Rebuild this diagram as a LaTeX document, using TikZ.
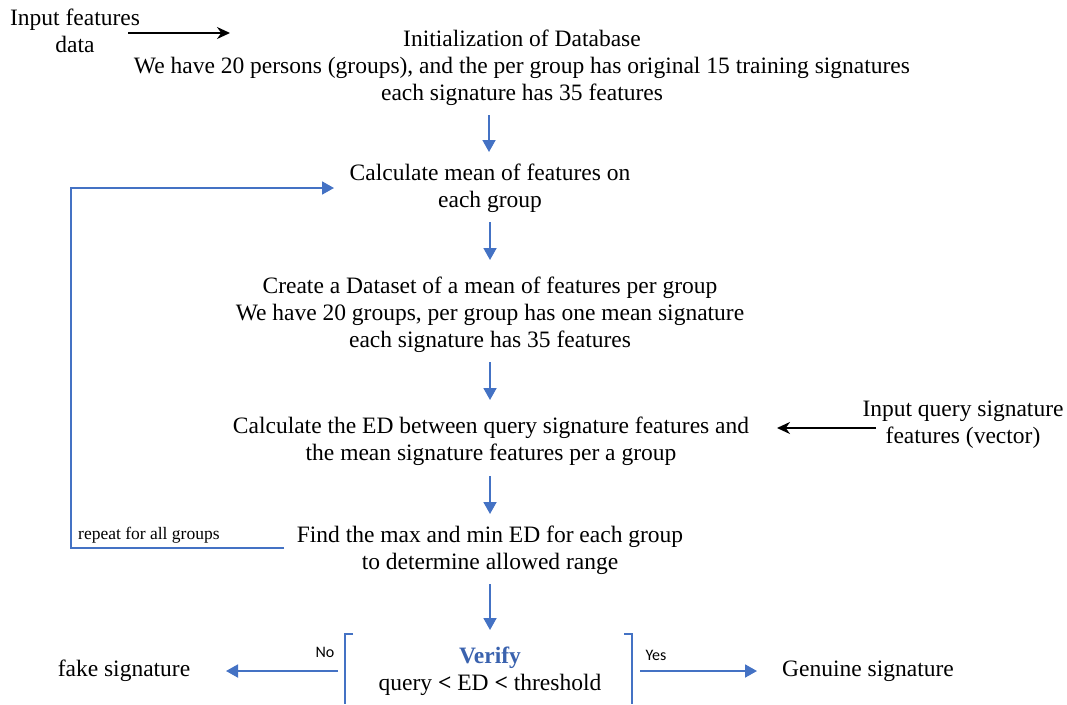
\documentclass[tikz,border=0pt]{standalone}
\usepackage{fontspec}
\newfontfamily\serf{Liberation Serif}
\newfontfamily\lblfont{Carlito}
\usetikzlibrary{arrows.meta}
\definecolor{flowblue}{HTML}{4472C4}
\definecolor{verblue}{HTML}{3A62AE}
\tikzset{
  txt/.style={align=center, inner sep=0pt, font=\serf\fontsize{23.5}{27}\selectfont},
  flow/.style={draw=flowblue, line width=1.8pt, -{Triangle[width=13pt,length=12pt]}},
  flowline/.style={draw=flowblue, line width=1.8pt},
  inarrow/.style={draw=black, line width=1.8pt, -{Stealth[width=12pt,length=13pt]}},
  small/.style={inner sep=0pt, font=\serf\fontsize{17.5}{18}\selectfont},
  lbl/.style={inner sep=0pt, font=\lblfont\fontsize{16}{18}\selectfont},
}
\begin{document}
\begin{tikzpicture}[x=1pt,y=-1pt]
\useasboundingbox (0,0) rectangle (1067,704);

\node[txt] (inp) at (75,31) {Input features\\data};
\node[txt] (init) at (522,68) {Initialization of Database\\We have 20 persons (groups), and the per group has original 15 training signatures\\each signature has 35 features};
\coordinate (inpS) at (128,33);
\coordinate (inpE) at (230,33);
\draw[inarrow] (inpS) -- (inpE);

\node[txt] (calc) at (490,188) {Calculate mean of features on\\each group};
\node[txt] (create) at (490,315) {Create a Dataset of a mean of features per group\\We have 20 groups, per group has one mean signature\\each signature has 35 features};
\node[txt] (ed) at (491,441) {Calculate the ED between query signature features and\\the mean signature features per a group};
\node[txt] (query) at (963,425) {Input query signature\\features (vector)};
\node[txt] (find) at (490,550) {Find the max and min ED for each group\\to determine allowed range};
\node[txt] (verify) at (490,671) {\textcolor{verblue}{\textbf{Verify}}\\query \textbf{<} ED \textbf{<} threshold};
\node[txt, anchor=center] (fake) at (124,671) {fake signature};
\node[txt, anchor=west] (gen) at (782,671) {Genuine signature};
\node[small, anchor=west] (rep) at (78,535) {repeat for all groups};
\node[lbl] (no) at (325,652) {No};
\node[lbl] (yes) at (656,655) {Yes};

% vertical flow arrows
\coordinate (a1s) at (489,115); \coordinate (a1e) at (489,152);
\coordinate (a2s) at (490,222); \coordinate (a2e) at (490,260);
\coordinate (a3s) at (490,362); \coordinate (a3e) at (490,400);
\coordinate (a4s) at (490,476); \coordinate (a4e) at (490,514);
\coordinate (a5s) at (490,584); \coordinate (a5e) at (490,630);
\draw[flow] (a1s) -- (a1e);
\draw[flow] (a2s) -- (a2e);
\draw[flow] (a3s) -- (a3e);
\draw[flow] (a4s) -- (a4e);
\draw[flow] (a5s) -- (a5e);

% query input arrow
\coordinate (qS) at (876,428);
\coordinate (qE) at (777,428);
\draw[inarrow] (qS) -- (qE);

% loop
\coordinate (lpA) at (284,548);
\coordinate (lpB) at (71,548);
\coordinate (lpC) at (71,188);
\coordinate (lpD) at (334,188);
\draw[flow] (lpA) -- (lpB) -- (lpC) -- (lpD);

% brackets
\coordinate (lbT) at (353,634);
\coordinate (lbC) at (345,634);
\coordinate (lbB) at (345,704);
\coordinate (rbT) at (624,634);
\coordinate (rbC) at (632,634);
\coordinate (rbB) at (632,704);
\draw[flowline, line width=1.6pt] (lbT) -- (lbC) -- (lbB);
\draw[flowline, line width=1.6pt] (rbT) -- (rbC) -- (rbB);

% decision arrows
\coordinate (noS) at (338,671);
\coordinate (noE) at (226,671);
\coordinate (yesS) at (640,671);
\coordinate (yesE) at (757,671);
\draw[flow] (noS) -- (noE);
\draw[flow] (yesS) -- (yesE);
\end{tikzpicture}
\end{document}
